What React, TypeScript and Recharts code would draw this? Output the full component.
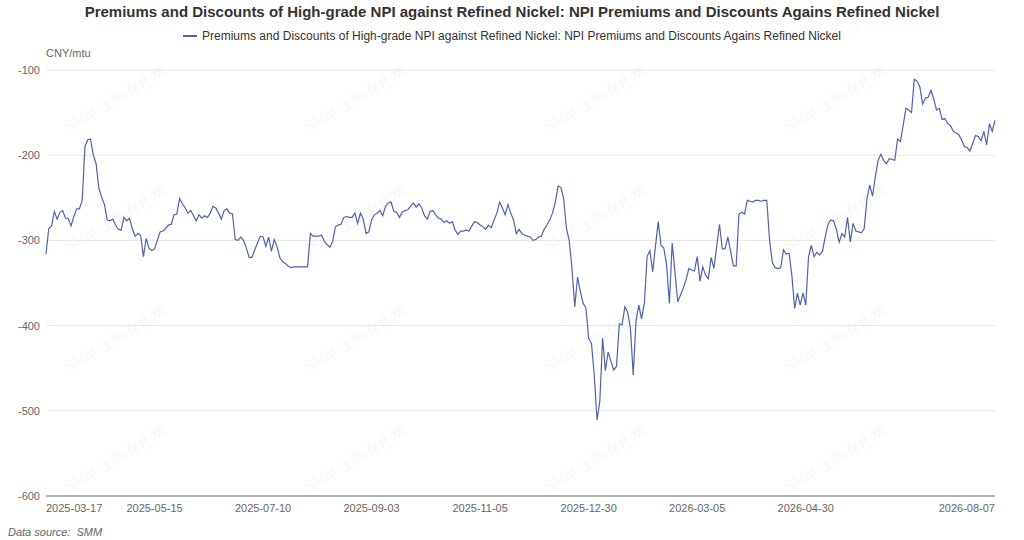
import React from 'react';
import { LineChart, Line, XAxis, YAxis, CartesianGrid } from 'recharts';

const TITLE = 'Premiums and Discounts of High-grade NPI against Refined Nickel: NPI Premiums and Discounts Agains Refined Nickel';
const UNIT = 'CNY/mtu';

// values, one per trading day, split by period
const MAR_MAY = [
  -316, -286, -283, -266, -275, -267, -265, -274, -274, -283,
  -272, -263, -263, -253, -190, -182, -181, -200, -210, -239,
  -249, -258, -276, -277, -275, -282, -287, -288, -273, -277,
  -274, -286, -295, -292, -294, -319, -298, -309, -312, -310,
  -300, -290, -289, -286, -282, -281, -270, -269, -251,
];
const MAY_AUG = [
  -257, -262, -268, -265, -271, -277, -270, -274, -271, -273,
  -268, -260, -262, -268, -275, -265, -263, -268, -269, -299,
  -300, -296, -300, -309, -320, -320, -311, -303, -295, -296,
  -307, -296, -313, -299, -307, -320, -325, -327, -330, -332,
  -331, -331, -331, -331, -331, -331, -292, -295, -295, -295,
];
const AUG_OCT = [
  -294, -301, -305, -308, -301, -284, -282, -281, -273, -272,
  -273, -273, -268, -280, -268, -275, -292, -290, -276, -270,
  -268, -265, -271, -260, -256, -255, -266, -267, -273, -267,
  -265, -264, -260, -256, -261, -257, -262, -271, -275, -266,
  -265, -270, -274, -275, -279, -277, -280, -278,
];
const OCT_DEC = [
  -288, -293, -289, -289, -288, -289, -283, -278, -279, -282,
  -284, -287, -282, -285, -276, -268, -255, -262, -270, -258,
  -268, -276, -292, -287, -292, -294, -295, -296, -300, -299,
  -296, -295, -287, -282, -276, -268, -255, -236, -238, -251,
];
const DEC_MAR = [
  -286, -300, -333, -378, -343, -360, -374, -379, -415, -421,
  -458, -511, -489, -415, -453, -431, -442, -452, -448, -398,
  -399, -378, -384, -403, -458, -395, -376, -392, -374, -319,
  -312, -337, -307, -278, -306, -309, -329, -374, -303, -337,
  -372, -364, -356, -346, -333, -335,
];
const MAR_MAY_26 = [
  -336, -319, -348, -331, -341, -345, -320, -333, -307,
  -281, -310, -310, -296, -313, -330, -330, -269, -267, -269,
  -253, -254, -255, -253, -253, -254, -253, -253, -300, -326,
  -332, -333, -332, -311, -316, -315, -341, -380, -362, -376,
  -362, -376, -319, -306, -319, -314, -317,
];
const MAY_AUG_26 = [
  -313, -296, -281, -276, -277, -287, -302, -292, -296, -273,
  -302, -280, -289, -290, -291, -286, -251, -235, -248, -225,
  -206, -199, -206, -210, -204, -205, -206, -181, -184, -165,
  -145, -147, -150, -111, -113, -120, -140, -133, -132, -124,
  -134, -147, -145, -158, -157, -163, -165, -172, -174, -176,
  -182, -190, -191, -195, -186, -177, -178, -183, -172, -188,
  -163, -172, -159,
];

const VALUES = [...MAR_MAY, ...MAY_AUG, ...AUG_OCT, ...OCT_DEC, ...DEC_MAR, ...MAR_MAY_26, ...MAY_AUG_26];
const LAST = VALUES.length - 1;

const TICK_LABELS = ['2025-03-17', '2025-05-15', '2025-07-10', '2025-09-03', '2025-11-05', '2025-12-30', '2026-03-05', '2026-04-30', '2026-08-07'];
const TICK_INDEX = [0, 39, 78, 117, 156, 195, 234, 273, LAST];
const Y_TICKS = [-600, -500, -400, -300, -200, -100];

const data = VALUES.map((v, i) => ({ i, v }));

const FONT = '"Liberation Sans", Arial, sans-serif';
const LINE_COLOR = '#5262a8';

const XTick = (props: any) => {
  const { x, y, index } = props;
  const anchor = index === 0 ? 'start' : index === TICK_INDEX.length - 1 ? 'end' : 'middle';
  return (
    <text x={x} y={y + 8} textAnchor={anchor} fontSize={11} fill="#666" fontFamily={FONT}>
      {TICK_LABELS[index]}
    </text>
  );
};

const YTick = (props: any) => {
  const { y, payload } = props;
  return (
    <text x={40} y={y + 4} textAnchor="end" fontSize={11} fill="#666" fontFamily={FONT}>
      {payload.value}
    </text>
  );
};

const Watermarks = () => {
  const marks = [];
  for (const cy of [100, 220, 340, 460]) {
    for (const cx of [115, 355, 595, 835]) {
      marks.push(
        <div
          key={`${cx}-${cy}`}
          style={{
            position: 'absolute', left: cx - 60, top: cy - 10, width: 120, textAlign: 'center',
            transform: 'rotate(-30deg)', fontSize: 15, color: 'rgba(0,0,0,0.06)', fontFamily: FONT, whiteSpace: 'nowrap',
          }}
        >
          SMM 上海有色网
        </div>
      );
    }
  }
  return <>{marks}</>;
};

export default function App() {
  return (
    <div style={{ position: 'fixed', left: 0, top: 0, width: 1024, height: 540, background: '#fff', overflow: 'hidden', fontFamily: FONT }}>
      <div style={{ position: 'absolute', top: 3, left: 0, width: 1024, textAlign: 'center', fontSize: 15, fontWeight: 'bold', color: '#333' }}>
        {TITLE}
      </div>
      <div style={{ position: 'absolute', top: 29, left: 0, width: 1024, display: 'flex', justifyContent: 'center', alignItems: 'center', fontSize: 12, color: '#333' }}>
        <span style={{ display: 'inline-block', width: 14, height: 2, background: LINE_COLOR, marginRight: 5 }} />
        {TITLE}
      </div>
      <div style={{ position: 'absolute', top: 47, left: 46, fontSize: 11, color: '#666' }}>{UNIT}</div>
      <Watermarks />
      <div style={{ position: 'absolute', left: 0, top: 0 }}>
        <LineChart width={1024} height={540} data={data} margin={{ top: 70, right: 29, bottom: 24, left: 0 }}>
          <CartesianGrid vertical={false} stroke="#e6e6e6" />
          <XAxis
            type="number"
            dataKey="i"
            domain={[0, LAST]}
            ticks={TICK_INDEX}
            interval={0}
            height={20}
            tick={<XTick />}
            tickLine={false}
            axisLine={{ stroke: '#6e7079' }}
          />
          <YAxis
            type="number"
            domain={[-600, -100]}
            ticks={Y_TICKS}
            width={46}
            tick={<YTick />}
            tickLine={false}
            axisLine={false}
          />
          <Line type="linear" dataKey="v" stroke={LINE_COLOR} strokeWidth={1.2} dot={false} isAnimationActive={false} />
        </LineChart>
      </div>
      <div style={{ position: 'absolute', left: 8, top: 526, fontSize: 11, fontStyle: 'italic', color: '#666' }}>
        Data source:&nbsp; SMM
      </div>
    </div>
  );
}
